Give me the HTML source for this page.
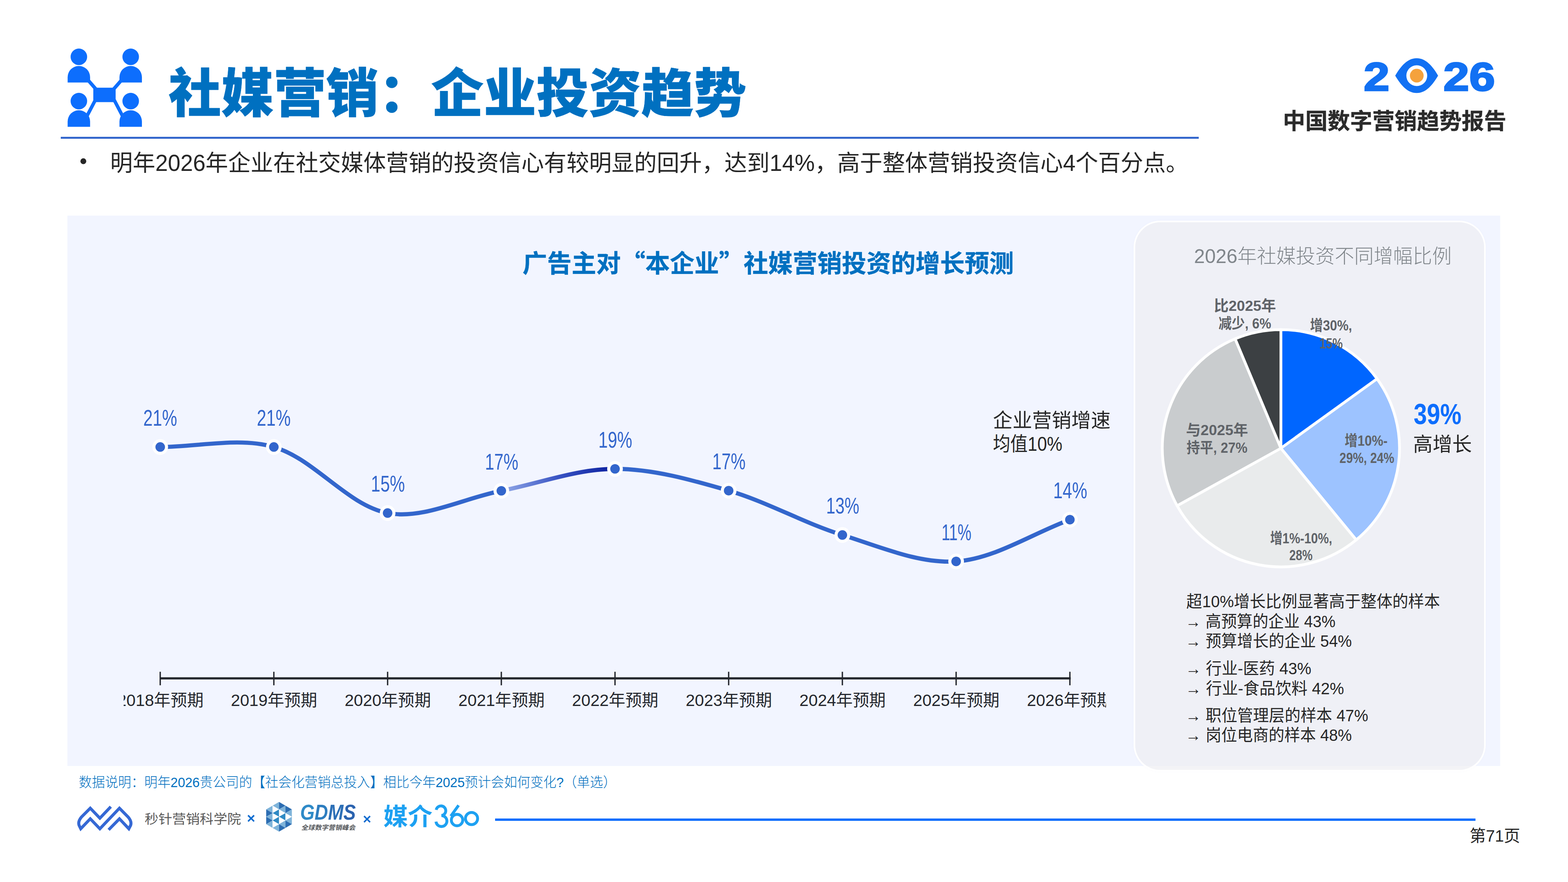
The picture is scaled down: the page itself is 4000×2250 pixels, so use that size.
<!DOCTYPE html><html lang="zh"><head><meta charset="utf-8"><title>社媒营销：企业投资趋势</title><style>html,body{margin:0;padding:0;background:#fff}
#p{position:relative;width:4000px;height:2250px;overflow:hidden;background:#fff;font-family:"Liberation Sans","Noto Sans CJK SC",sans-serif}
#p div{position:absolute}
#p svg{position:absolute;left:0;top:0}
#p svg text{font-family:"Liberation Sans","Noto Sans CJK SC",sans-serif;white-space:pre}</style></head><body><div id="p">
<div style="left:155px;top:349px;width:2902.5px;height:5px;background:#3366CC"></div>
<div style="left:172px;top:550px;width:3655px;height:1404px;background:#F2F5FF"></div>
<div style="left:2895.7px;top:566.7px;width:889.9px;height:1397.1px;background:rgba(236,237,241,.65);border-radius:64px;box-shadow:0 0 0 4.1px #fff,0 0 10px 1px rgba(120,130,200,.06)"></div>
<div style="left:1263px;top:2088px;width:2501px;height:6px;background:#0D6EFD"></div>
<svg width="4000" height="2250" viewBox="0 0 4000 2250">
<g fill="#0D6EFD">
<circle cx="201.2" cy="144.9" r="21.1"/>
<path d="M172.55 210.5V196.85A28.65 28.65 0 0 1 229.85 196.85V210.5Z"/>
<circle cx="333.4" cy="144.9" r="21.1"/>
<path d="M304.75 210.5V196.85A28.65 28.65 0 0 1 362.05 196.85V210.5Z"/>
<circle cx="201.2" cy="257.9" r="21.1"/>
<path d="M172.55 323.5V309.85A28.65 28.65 0 0 1 229.85 309.85V323.5Z"/>
<circle cx="333.4" cy="257.9" r="21.1"/>
<path d="M304.75 323.5V309.85A28.65 28.65 0 0 1 362.05 309.85V323.5Z"/>
<rect x="238" y="223.7" width="57" height="36.8"/>
</g>
<g stroke="#0D6EFD" stroke-width="8.8" fill="none">
<path d="M223 202.5L250 233.5M311.6 202.5L284.6 233.5M219.5 300.5L247 248M315 300.5L287.6 248"/>
</g>
<text x="430" y="285.5" font-size="134" font-weight="900" fill="#0070C0" stroke="#0070C0" stroke-width="0.8" stroke-linejoin="round" textLength="1474" lengthAdjust="spacingAndGlyphs">社媒营销：企业投资趋势</text>
<circle cx="212.6" cy="411.3" r="7.5" fill="#262626"/>
<text x="281" y="435.7" font-size="58.33" fill="#262626" textLength="2750.49" lengthAdjust="spacingAndGlyphs">明年2026年企业在社交媒体营销的投资信心有较明显的回升，达到14%，高于整体营销投资信心4个百分点。</text>
<text transform="translate(3478.69 230.7) scale(1.1686 1)" font-size="101.4" font-weight="bold" fill="#1271F3" stroke="#1271F3" stroke-width="3.5" stroke-linejoin="miter">2</text>
<text transform="translate(3682.09 230.7) scale(1.1686 1)" font-size="101.4" font-weight="bold" fill="#1271F3" stroke="#1271F3" stroke-width="3.5" stroke-linejoin="miter">26</text>
<path d="M3559.2 192.9C3573.4 168.8 3590.4 148.5 3613.9 148.5C3637.4 148.5 3654.4 168.8 3668.6 192.9C3654.4 217 3637.4 237.2 3613.9 237.2C3590.4 237.2 3573.4 217 3559.2 192.9Z" fill="#1271F3"/>
<circle cx="3614.2" cy="193" r="26.6" fill="#fff"/><circle cx="3614.2" cy="193" r="17.5" fill="#F5A23C"/>
<text x="3272.67" y="329" font-size="57" font-weight="bold" fill="#2B2B2B" stroke="#2B2B2B" stroke-width="0.5" stroke-linejoin="round" textLength="570" lengthAdjust="spacingAndGlyphs">中国数字营销趋势报告</text>
<text x="1333" y="694.3" font-size="62.66" font-weight="bold" fill="#0070C0" stroke="#0070C0" stroke-width="0.5" stroke-linejoin="round" textLength="1253.2" lengthAdjust="spacingAndGlyphs">广告主对<tspan style="font-family:'Noto Sans CJK SC',sans-serif">“</tspan>本企业<tspan style="font-family:'Noto Sans CJK SC',sans-serif">”</tspan>社媒营销投资的增长预测</text>
<defs><linearGradient id="lg" gradientUnits="userSpaceOnUse" x1="1278.9" y1="1252.1" x2="1568.9" y2="1196.1"><stop offset="0" stop-color="#93AAE8"/><stop offset=".5" stop-color="#3A55C4"/><stop offset="1" stop-color="#0A1E9E"/></linearGradient></defs>
<g fill="none" stroke-width="10.6" stroke="#3366CC"><path d="M408.7 1140.3C505.33 1140.3 608.98 1114.27 698.6 1140.3C802.34 1170.43 885.96 1288.99 988.8 1308.8C1079.39 1326.25 1182.18 1270.89 1278.9 1252.1"/><path d="M1568.9 1196.1C1665.52 1196.03 1764.71 1224.33 1858.8 1251.7C1958.05 1280.57 2050.05 1334.05 2148.9 1364.8C2243.48 1394.22 2344.15 1438.6 2439.1 1432.2C2537.62 1425.56 2632.57 1361.2 2729.3 1325.7"/><path d="M1278.9 1252.1C1375.55 1233.32 1472.22 1196.17 1568.9 1196.1" stroke="url(#lg)"/></g>
<circle cx="408.7" cy="1140.3" r="20" fill="#fff"/><circle cx="408.7" cy="1140.3" r="12.2" fill="#3366CC"/>
<circle cx="698.6" cy="1140.3" r="20" fill="#fff"/><circle cx="698.6" cy="1140.3" r="12.2" fill="#3366CC"/>
<circle cx="988.8" cy="1308.8" r="20" fill="#fff"/><circle cx="988.8" cy="1308.8" r="12.2" fill="#3366CC"/>
<circle cx="1278.9" cy="1252.1" r="20" fill="#fff"/><circle cx="1278.9" cy="1252.1" r="12.2" fill="#3366CC"/>
<circle cx="1568.9" cy="1196.1" r="20" fill="#fff"/><circle cx="1568.9" cy="1196.1" r="12.2" fill="#3366CC"/>
<circle cx="1858.8" cy="1251.7" r="20" fill="#fff"/><circle cx="1858.8" cy="1251.7" r="12.2" fill="#3366CC"/>
<circle cx="2148.9" cy="1364.8" r="20" fill="#fff"/><circle cx="2148.9" cy="1364.8" r="12.2" fill="#3366CC"/>
<circle cx="2439.1" cy="1432.2" r="20" fill="#fff"/><circle cx="2439.1" cy="1432.2" r="12.2" fill="#3366CC"/>
<circle cx="2729.3" cy="1325.7" r="20" fill="#fff"/><circle cx="2729.3" cy="1325.7" r="12.2" fill="#3366CC"/>
<g font-size="57" fill="#3366CC">
<text x="365.41" y="1085.7" textLength="86.33" lengthAdjust="spacingAndGlyphs">21%</text>
<text x="655.31" y="1085.7" textLength="86.33" lengthAdjust="spacingAndGlyphs">21%</text>
<text x="946.35" y="1254.2" textLength="86.55" lengthAdjust="spacingAndGlyphs">15%</text>
<text x="1237.21" y="1197.5" textLength="85.03" lengthAdjust="spacingAndGlyphs">17%</text>
<text x="1526.59" y="1141.5" textLength="86.28" lengthAdjust="spacingAndGlyphs">19%</text>
<text x="1817.11" y="1197.1" textLength="85.03" lengthAdjust="spacingAndGlyphs">17%</text>
<text x="2107.43" y="1310.2" textLength="84.59" lengthAdjust="spacingAndGlyphs">13%</text>
<text x="2401.68" y="1377.6" textLength="76.49" lengthAdjust="spacingAndGlyphs">11%</text>
<text x="2686.66" y="1271.1" textLength="86.93" lengthAdjust="spacingAndGlyphs">14%</text>
</g>
<text x="2533" y="1090" font-size="50" fill="#262626" textLength="300" lengthAdjust="spacingAndGlyphs">企业营销增速</text>
<text x="2533" y="1150" font-size="50" fill="#262626" textLength="177.2" lengthAdjust="spacingAndGlyphs">均值10%</text>
<g fill="#24272D"><rect x="407" y="1727.7" width="2324.5" height="5.6"/>
<rect x="407" y="1713.7" width="3.4" height="34.5"/>
<rect x="696.9" y="1713.7" width="3.4" height="34.5"/>
<rect x="987.1" y="1713.7" width="3.4" height="34.5"/>
<rect x="1277.2" y="1713.7" width="3.4" height="34.5"/>
<rect x="1567.2" y="1713.7" width="3.4" height="34.5"/>
<rect x="1857.1" y="1713.7" width="3.4" height="34.5"/>
<rect x="2147.2" y="1713.7" width="3.4" height="34.5"/>
<rect x="2437.4" y="1713.7" width="3.4" height="34.5"/>
<rect x="2727.6" y="1713.7" width="3.4" height="34.5"/>
</g>
<clipPath id="cl"><rect x="315.5" y="1740" width="2506" height="90"/></clipPath><g clip-path="url(#cl)" font-size="41.67" fill="#24272D">
<text x="299.05" y="1800.5" textLength="220.29" lengthAdjust="spacingAndGlyphs">2018年预期</text>
<text x="588.95" y="1800.5" textLength="220.29" lengthAdjust="spacingAndGlyphs">2019年预期</text>
<text x="879.15" y="1800.5" textLength="220.29" lengthAdjust="spacingAndGlyphs">2020年预期</text>
<text x="1169.25" y="1800.5" textLength="220.29" lengthAdjust="spacingAndGlyphs">2021年预期</text>
<text x="1459.25" y="1800.5" textLength="220.29" lengthAdjust="spacingAndGlyphs">2022年预期</text>
<text x="1749.15" y="1800.5" textLength="220.29" lengthAdjust="spacingAndGlyphs">2023年预期</text>
<text x="2039.25" y="1800.5" textLength="220.29" lengthAdjust="spacingAndGlyphs">2024年预期</text>
<text x="2329.45" y="1800.5" textLength="220.29" lengthAdjust="spacingAndGlyphs">2025年预期</text>
<text x="2619.65" y="1800.5" textLength="220.29" lengthAdjust="spacingAndGlyphs">2026年预期</text>
</g>
<text x="3046.1" y="670.5" font-size="50" font-weight="300" fill="#80868B" textLength="657" lengthAdjust="spacingAndGlyphs">2026年社媒投资不同增幅比例</text>
<path d="M3267.6 1143.5L3267.6 840.9A302.6 302.6 0 0 1 3512.97 966.41Z" fill="#0066FF" stroke="#fff" stroke-width="7" stroke-linejoin="round"/>
<path d="M3267.6 1143.5L3512.97 966.41A302.6 302.6 0 0 1 3459.75 1377.26Z" fill="#9DC3FF" stroke="#fff" stroke-width="7" stroke-linejoin="round"/>
<path d="M3267.6 1143.5L3459.75 1377.26A302.6 302.6 0 0 1 3002.89 1290.11Z" fill="#E9EBEC" stroke="#fff" stroke-width="7" stroke-linejoin="round"/>
<path d="M3267.6 1143.5L3002.89 1290.11A302.6 302.6 0 0 1 3150.92 864.3Z" fill="#C9CCCE" stroke="#fff" stroke-width="7" stroke-linejoin="round"/>
<path d="M3267.6 1143.5L3150.92 864.3A302.6 302.6 0 0 1 3267.6 840.9Z" fill="#3C4043" stroke="#fff" stroke-width="7" stroke-linejoin="round"/>
<g font-size="37.5" font-weight="bold" fill="#5F6368">
<text x="3096.71" y="792.6" textLength="158.42" lengthAdjust="spacingAndGlyphs">比2025年</text>
<text x="3108.52" y="837.5" textLength="134.37" lengthAdjust="spacingAndGlyphs">减少, 6%</text>
<text x="3341.93" y="842.6" textLength="107.3" lengthAdjust="spacingAndGlyphs">增30%,</text>
<text x="3365.89" y="888.7" textLength="59.38" lengthAdjust="spacingAndGlyphs">15%</text>
<text x="3430.19" y="1136.8" textLength="109.37" lengthAdjust="spacingAndGlyphs">增10%-</text>
<text x="3417.11" y="1181.2" textLength="139.6" lengthAdjust="spacingAndGlyphs">29%, 24%</text>
<text x="3240.22" y="1385.5" textLength="158.32" lengthAdjust="spacingAndGlyphs">增1%-10%,</text>
<text x="3288.92" y="1429" textLength="59.38" lengthAdjust="spacingAndGlyphs">28%</text>
<text x="3025.38" y="1109.7" textLength="158.42" lengthAdjust="spacingAndGlyphs">与2025年</text>
<text x="3026.98" y="1154.7" textLength="155.22" lengthAdjust="spacingAndGlyphs">持平, 27%</text>
</g>
<text x="3606.19" y="1082.3" font-size="75" font-weight="bold" fill="#0D6EFD" textLength="121.98" lengthAdjust="spacingAndGlyphs">39%</text>
<text x="3604.8" y="1150.5" font-size="50" fill="#262626" textLength="150" lengthAdjust="spacingAndGlyphs">高增长</text>
<g font-size="41.67" fill="#262626">
<text x="3026.3" y="1548.7" textLength="647.14" lengthAdjust="spacingAndGlyphs">超10%增长比例显著高于整体的样本</text>
<text x="3024" y="1599.8" textLength="382.95" lengthAdjust="spacingAndGlyphs">→ 高预算的企业 43%</text>
<text x="3024" y="1650.2" textLength="424.62" lengthAdjust="spacingAndGlyphs">→ 预算增长的企业 54%</text>
<text x="3024" y="1719.9" textLength="321.28" lengthAdjust="spacingAndGlyphs">→ 行业-医药 43%</text>
<text x="3024" y="1770.6" textLength="404.62" lengthAdjust="spacingAndGlyphs">→ 行业-食品饮料 42%</text>
<text x="3024" y="1840" textLength="466.29" lengthAdjust="spacingAndGlyphs">→ 职位管理层的样本 47%</text>
<text x="3024" y="1890" textLength="424.62" lengthAdjust="spacingAndGlyphs">→ 岗位电商的样本 48%</text>
</g>
<text x="201.09" y="2008" font-size="35" font-weight="300" fill="#0070C0" textLength="1370.74" lengthAdjust="spacingAndGlyphs">数据说明：明年2026贵公司的【社会化营销总投入】相比今年2025预计会如何变化?（单选）</text>
<path d="M282.7 2057.8L254.8 2087.2L230.3 2061.7L208 2084Q198 2096 202 2106L206 2114.1L230.3 2088.7L254.8 2114.2L304.7 2061.7L326.7 2084Q337 2096 333 2106L328.7 2114.1L304.7 2088.7L277.1 2116.9" fill="none" stroke="#3568D4" stroke-width="7.7" stroke-linejoin="miter"/>
<text x="369" y="2100.5" font-size="33.5" fill="#595959" textLength="245.9" lengthAdjust="spacingAndGlyphs">秒针营销科学院</text>
<path d="M632.8 2080l15.4 15.4M648.2 2080l-15.4 15.4" stroke="#0D6CD0" stroke-width="3.9" fill="none"/>
<path d="M928.7 2081.9l15.4 15.4M944.1 2081.9l-15.4 15.4" stroke="#0D6CD0" stroke-width="3.9" fill="none"/>
<path d="M695.43 2055.25L695.43 2074.15L679.06 2064.7" fill="#7FB4DA"/>
<path d="M679.06 2064.7L679.06 2083.6L695.43 2074.15" fill="#2C6DB2"/>
<path d="M695.43 2074.15L695.43 2093.05L679.06 2083.6" fill="#7FB4DA"/>
<path d="M679.06 2083.6L679.06 2102.5L695.43 2093.05" fill="#2C6DB2"/>
<path d="M695.43 2093.05L695.43 2111.95L679.06 2102.5" fill="#7FB4DA"/>
<path d="M711.8 2045.8L711.8 2064.7L695.43 2055.25" fill="#7FB4DA"/>
<path d="M695.43 2055.25L695.43 2074.15L711.8 2064.7" fill="#FFFFFF"/>
<path d="M711.8 2064.7L711.8 2083.6L695.43 2074.15" fill="#2F8AC4"/>
<path d="M695.43 2074.15L695.43 2093.05L711.8 2083.6" fill="#FFFFFF"/>
<path d="M711.8 2083.6L711.8 2102.5L695.43 2093.05" fill="#2F8AC4"/>
<path d="M695.43 2093.05L695.43 2111.95L711.8 2102.5" fill="#FFFFFF"/>
<path d="M711.8 2102.5L711.8 2121.4L695.43 2111.95" fill="#7FB4DA"/>
<path d="M711.8 2045.8L711.8 2064.7L728.17 2055.25" fill="#2C6DB2"/>
<path d="M728.17 2055.25L728.17 2074.15L711.8 2064.7" fill="#7FB4DA"/>
<path d="M711.8 2064.7L711.8 2083.6L728.17 2074.15" fill="#FFFFFF"/>
<path d="M728.17 2074.15L728.17 2093.05L711.8 2083.6" fill="#2F8AC4"/>
<path d="M711.8 2083.6L711.8 2102.5L728.17 2093.05" fill="#FFFFFF"/>
<path d="M728.17 2093.05L728.17 2111.95L711.8 2102.5" fill="#7FB4DA"/>
<path d="M711.8 2102.5L711.8 2121.4L728.17 2111.95" fill="#2C6DB2"/>
<path d="M728.17 2055.25L728.17 2074.15L744.54 2064.7" fill="#2C6DB2"/>
<path d="M744.54 2064.7L744.54 2083.6L728.17 2074.15" fill="#7FB4DA"/>
<path d="M728.17 2074.15L728.17 2093.05L744.54 2083.6" fill="#FFFFFF"/>
<path d="M744.54 2083.6L744.54 2102.5L728.17 2093.05" fill="#7FB4DA"/>
<path d="M728.17 2093.05L728.17 2111.95L744.54 2102.5" fill="#2C6DB2"/>
<text transform="translate(765.69 2091) scale(0.845 1)" font-size="56" font-weight="bold" font-style="italic" fill="#2C78BC"><tspan fill="#2E8AC7">G</tspan><tspan fill="#2D7DBF">D</tspan><tspan fill="#2C6FB6">M</tspan><tspan fill="#2B63AF">S</tspan></text>
<text transform="translate(768.5 2117) skewX(-12)" font-size="16.5" font-weight="bold" fill="#55585C" textLength="137.95" lengthAdjust="spacingAndGlyphs">全球数字营销峰会</text>
<text x="978" y="2105" font-size="61" font-weight="bold" fill="#1DA1F2" textLength="125" lengthAdjust="spacingAndGlyphs">媒介</text>
<g fill="none" stroke="#1DA1F2" stroke-width="7.3">
<path d="M1112.8 2066A12.3 12.3 0 1 1 1126 2080.5A14 14 0 1 1 1112.2 2096"/>
<path d="M1169.9 2054.4L1150 2082"/><circle cx="1165.9" cy="2092" r="14.5"/><circle cx="1202.9" cy="2088.1" r="15.5"/>
</g>
<text x="3749" y="2147.3" font-size="41.67" fill="#262626" textLength="129.09" lengthAdjust="spacingAndGlyphs">第71页</text>
</svg>
</div></body></html>
